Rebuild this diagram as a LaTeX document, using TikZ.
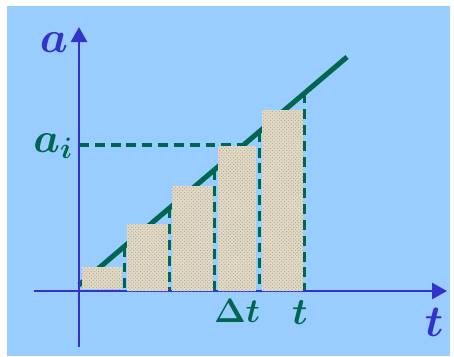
\RequirePackage{fix-cm}
\documentclass[tikz,border=0pt]{standalone}
\usepackage{tikz}
\usetikzlibrary{arrows.meta,patterns}
\definecolor{skyback}{RGB}{153,204,255}
\definecolor{axisblue}{RGB}{51,51,204}
\definecolor{linegreen}{RGB}{0,102,80}
\definecolor{sandbar}{RGB}{226,218,196}

\begin{document}
\begin{tikzpicture}[x=0.03cm,y=-0.03cm,
    axis/.style={draw=axisblue,line width=2.4pt,-{Triangle[length=12.8pt,width=13.6pt]}},
    slope/.style={draw=linegreen,line width=4.3pt},
    guide/.style={draw=linegreen,line width=2.6pt,dash pattern=on 8.5pt off 5pt},
    bar/.style={fill=sandbar,postaction={pattern=crosshatch dots,pattern color=sandbar!75!black}},
    lab/.style={inner sep=0pt,anchor=base}
  ]
    \useasboundingbox (0,0) rectangle (454,356);
    \fill[skyback] (7,6) rectangle (450,356);
    \coordinate (O) at (79,291);
    \coordinate (ai) at (79,145);
    \coordinate (o) at (79,285);
    \coordinate (lineend) at (347,57);
    \path (o) -- (lineend)
      coordinate[pos=0.168] (p1) coordinate[pos=0.336] (p2)
      coordinate[pos=0.504] (p3) coordinate[pos=0.672] (p4)
      coordinate[pos=0.840] (p5) coordinate[pos=0.614] (q);
    % guides
    \draw[guide] (ai) -- (ai -| q);
    \draw[slope] (o) -- (lineend);
    \draw[guide] (p1) -- (p1 |- O);
    \draw[guide] (p2) -- (p2 |- O);
    \draw[guide] (p3) -- (p3 |- O);
    \draw[guide] (p4) -- (p4 |- O);
    \draw[guide] (p5) -- (p5 |- O);
    % axes
    \draw[axis] (79,347) -- (79,27);
    \draw[axis] (34,291) -- (447,291);
    % bars
    \path[bar] (82,267) rectangle (122,289);
    \path[bar] (127,224) rectangle (168,291);
    \path[bar] (172,186) rectangle (213,291);
    \path[bar] (218,146) rectangle (256,291);
    \path[bar] (262,110) rectangle (303,291);
    % labels
    \node[lab,text=axisblue,font=\fontsize{38}{40}\selectfont\boldmath] (alab) at (54,52) {$a$};
    \node[lab,text=linegreen,font=\fontsize{36}{40}\selectfont\boldmath] (ailab) at (53,152) {$a_i$};
    \node[lab,text=linegreen,font=\fontsize{29}{32}\selectfont\boldmath] (dtlab) at (237,322) {$\Delta t$};
    \node[lab,text=linegreen,font=\fontsize{32}{34}\selectfont\boldmath] (tlab) at (300,324) {$t$};
    \node[lab,text=axisblue,font=\fontsize{38}{40}\selectfont\boldmath] (tax) at (434,336) {$t$};
\end{tikzpicture}
\end{document}
